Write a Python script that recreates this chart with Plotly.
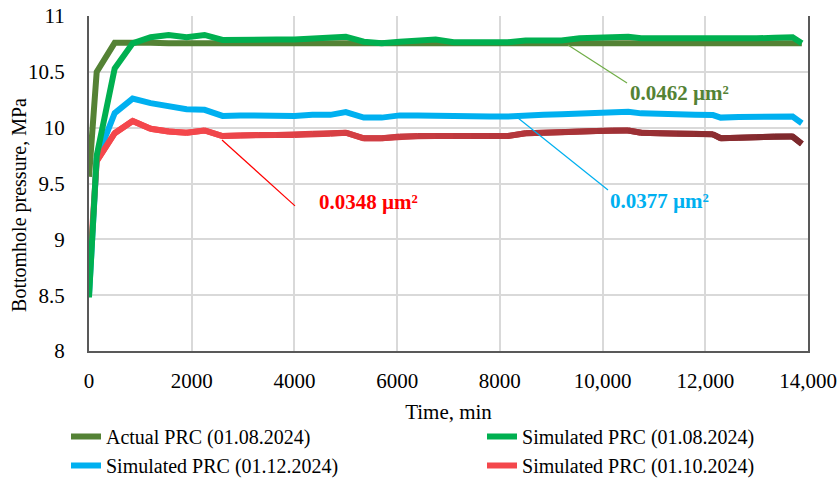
import plotly.graph_objects as go

time_min = [0, 150, 500, 850, 1200, 1550, 1900, 2250, 2600, 2950, 3300, 3650, 4000, 4350, 4700,
            5000, 5350, 5700, 6050, 6400, 6750, 7100, 7450, 7800, 8150, 8500, 8850, 9200, 9550,
            9900, 10200, 10500, 10750, 11100, 11450, 11800, 12150, 12300, 12650, 13000, 13350,
            13700, 13880]

actual_0108 = [9.56, 10.50, 10.76, 10.765, 10.76, 10.755, 10.755, 10.755, 10.75, 10.75, 10.75,
               10.75, 10.75, 10.75, 10.75, 10.745, 10.745, 10.745, 10.745, 10.745, 10.75, 10.75,
               10.75, 10.75, 10.75, 10.75, 10.75, 10.75, 10.75, 10.75, 10.755, 10.755, 10.755,
               10.755, 10.755, 10.755, 10.755, 10.755, 10.755, 10.755, 10.755, 10.755, 10.755]

sim_0108 = [8.48, 9.75, 10.53, 10.755, 10.81, 10.83, 10.81, 10.83, 10.785, 10.79, 10.79, 10.79,
            10.79, 10.795, 10.80, 10.815, 10.77, 10.755, 10.77, 10.78, 10.79, 10.765, 10.765,
            10.765, 10.765, 10.78, 10.78, 10.78, 10.80, 10.805, 10.805, 10.815, 10.80, 10.80,
            10.795, 10.79, 10.79, 10.79, 10.795, 10.80, 10.805, 10.81, 10.755]

sim_0112 = [8.50, 9.72, 10.13, 10.26, 10.22, 10.19, 10.165, 10.16, 10.105, 10.11, 10.105, 10.105,
            10.105, 10.115, 10.115, 10.14, 10.09, 10.09, 10.11, 10.11, 10.105, 10.10, 10.10,
            10.10, 10.10, 10.113, 10.115, 10.12, 10.125, 10.13, 10.135, 10.143, 10.128, 10.12,
            10.115, 10.115, 10.113, 10.09, 10.095, 10.10, 10.10, 10.10, 10.04]

sim_0110 = [8.64, 9.70, 9.95, 10.06, 9.99, 9.965, 9.955, 9.975, 9.925, 9.93, 9.935, 9.935, 9.935,
            9.945, 9.945, 9.955, 9.905, 9.905, 9.92, 9.925, 9.925, 9.925, 9.925, 9.925, 9.925,
            9.95, 9.955, 9.96, 9.965, 9.97, 9.975, 9.975, 9.955, 9.95, 9.945, 9.945, 9.94, 9.905,
            9.91, 9.915, 9.92, 9.92, 9.855]

series_names = ["Actual PRC (01.08.2024)", "Simulated PRC (01.08.2024)",
                "Simulated PRC (01.12.2024)", "Simulated PRC (01.10.2024)"]

x_tickvals = [0, 2000, 4000, 6000, 8000, 10000, 12000, 14000]
x_ticktext = ["0", "2000", "4000", "6000", "8000", "10,000", "12,000", "14,000"]
y_tickvals = [8, 8.5, 9, 9.5, 10, 10.5, 11]
y_ticktext = ["8", "8.5", "9", "9.5", "10", "10.5", "11"]

label_texts = ["0.0462 µm²", "0.0377 µm²", "0.0348 µm²"]
label_pos = [(10495, 10.31), (10106, 9.343), (4439, 9.334)]
leader_lines = [((9327, 10.74), (10476, 10.40)),
                ((8353, 10.087), (10106, 9.442)),
                ((2590, 9.89), (4011, 9.30))]
label_colors = ["#548235", "#00B0F0", "#FF0000"]
leader_colors = ["#70AD47", "#00B0F0", "#FF0000"]

FONT = "Liberation Serif, Times New Roman, serif"
FS = 21
LW = 6

fig = go.Figure()

# blue
fig.add_trace(go.Scatter(x=time_min, y=sim_0112, mode="lines", name=series_names[2],
                         line=dict(color="#00B0F0", width=LW), legend="legend", legendrank=2))

# red gradient line built from segments
def lerp_color(c1, c2, f):
    a = [int(c1[i:i + 2], 16) for i in (1, 3, 5)]
    b = [int(c2[i:i + 2], 16) for i in (1, 3, 5)]
    return "rgb(%d,%d,%d)" % tuple(round(a[k] + (b[k] - a[k]) * f) for k in range(3))

c_start, c_end = "#F4474C", "#7B282C"
t_hold, t_end = 2000, time_min[-1]
n = len(time_min)
for i in range(n - 1):
    j = min(i + 2, n - 1)
    tm = 0.5 * (time_min[i] + time_min[i + 1])
    f = max(0.0, (tm - t_hold) / (t_end - t_hold))
    fig.add_trace(go.Scatter(x=time_min[i:j + 1], y=sim_0110[i:j + 1], mode="lines",
                             name=series_names[3], legendgroup="red",
                             showlegend=(i == 0), legend="legend2", legendrank=2,
                             line=dict(color=lerp_color(c_start, c_end, f), width=LW)))

fig.add_trace(go.Scatter(x=time_min, y=actual_0108, mode="lines", name=series_names[0],
                         line=dict(color="#548235", width=LW), legend="legend", legendrank=1))
fig.add_trace(go.Scatter(x=time_min, y=sim_0108, mode="lines", name=series_names[1],
                         line=dict(color="#00B050", width=LW), legend="legend2", legendrank=1))

for (p0, p1), col in zip(leader_lines, leader_colors):
    fig.add_shape(type="line", xref="x", yref="y", x0=p0[0], y0=p0[1], x1=p1[0], y1=p1[1],
                  line=dict(color=col, width=1.2))

for txt, (lx, ly), col in zip(label_texts, label_pos, label_colors):
    fig.add_annotation(x=lx, y=ly, xref="x", yref="y", text="<b>%s</b>" % txt,
                       showarrow=False, xanchor="left", yanchor="middle",
                       font=dict(family=FONT, size=FS, color=col))

# y-axis title (placed slightly below the plot centre, as in the reference)
fig.add_annotation(x=-0.096, y=0.436, xref="paper", yref="paper",
                   text="Bottomhole pressure, MPa", textangle=-90, showarrow=False,
                   xanchor="center", yanchor="middle",
                   font=dict(family=FONT, size=20, color="#000000"))

legend_common = dict(orientation="v", xanchor="left", yanchor="top", y=-0.197,
                     traceorder="normal", tracegroupgap=0, itemwidth=30,
                     bgcolor="rgba(0,0,0,0)",
                     font=dict(family=FONT, size=20, color="#000000"))

fig.update_layout(
    width=838, height=479,
    margin=dict(l=89, r=30, t=16, b=128, autoexpand=False),
    paper_bgcolor="white", plot_bgcolor="white",
    font=dict(family=FONT, size=FS, color="#000000"),
    showlegend=True,
    legend=dict(x=-0.032, **legend_common),
    legend2=dict(x=0.5466, **legend_common),
)

fig.update_xaxes(range=[0, 14000], tickvals=x_tickvals, ticktext=x_ticktext,
                 showgrid=True, gridcolor="#D9D9D9", gridwidth=1.5,
                 showline=True, linecolor="#595959", linewidth=2, mirror=False,
                 ticks="", zeroline=False, ticklabelstandoff=10,
                 title=dict(text="Time, min", font=dict(family=FONT, size=FS), standoff=12),
                 tickfont=dict(family=FONT, size=FS))
fig.update_yaxes(range=[8, 11], tickvals=y_tickvals, ticktext=y_ticktext,
                 showgrid=True, gridcolor="#D9D9D9", gridwidth=1.5,
                 showline=True, linecolor="#595959", linewidth=2, mirror=True,
                 ticks="", zeroline=False, ticklabelstandoff=18,
                 tickfont=dict(family=FONT, size=FS))

fig.write_html("out.html", config={"displayModeBar": False},
               post_script="document.body.style.margin='0';document.body.style.overflow='hidden';")
